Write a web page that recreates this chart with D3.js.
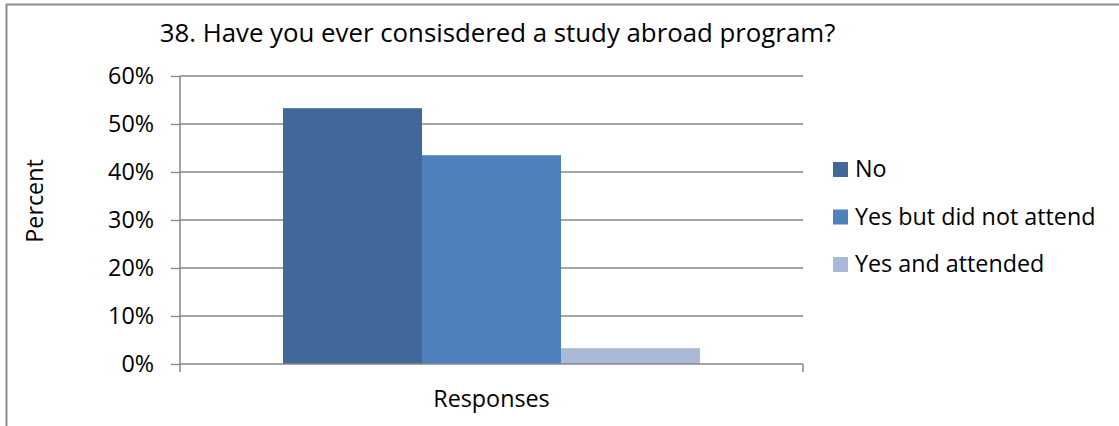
<!DOCTYPE html>
<html>
<head>
<meta charset="utf-8">
<script src="https://cdn.jsdelivr.net/npm/d3@7"></script>
<style>
  body { margin: 0; background: #fff; }
  text { font-family: "Open Sans", "Noto Sans", sans-serif; fill: #000; }
</style>
</head>
<body>
<div id="chart"></div>
<script>
const categories = ['Responses'];
const seriesNames = ['No', 'Yes but did not attend', 'Yes and attended'];
const seriesValues = [0.533, 0.435, 0.033];
const yTicks = [0, 0.1, 0.2, 0.3, 0.4, 0.5, 0.6];

const COLORS = {
  SERIES: ['#40699A', '#4F81BD', '#AAB9D7'],
  GRID: '#878787',
  BORDER: '#8C8C8C'
};

const width = 1119;
const height = 426;
const plot = { left: 180, right: 803, top: 76, bottom: 364 };
const FONT = 23.3;

const svg = d3.select('#chart').append('svg')
  .attr('width', width)
  .attr('height', height)
  .attr('viewBox', [0, 0, width, height]);

// outer chart border (cropped at right and bottom)
svg.append('rect')
  .attr('x', 6.5).attr('y', 4.5)
  .attr('width', width + 10).attr('height', height + 10)
  .attr('fill', 'none')
  .attr('stroke', COLORS.BORDER)
  .attr('stroke-width', 2);

const y = d3.scaleLinear().domain([0, 0.6]).range([plot.bottom, plot.top]);
const x0 = d3.scaleBand().domain(categories).range([plot.left, plot.right]);
const x1 = d3.scaleBand().domain(seriesNames)
  .range([0, x0.bandwidth()])
  .paddingInner(0)
  .paddingOuter(0.741);

// gridlines
svg.append('g')
  .selectAll('line')
  .data(yTicks.filter(d => d > 0))
  .join('line')
    .attr('x1', plot.left).attr('x2', plot.right)
    .attr('y1', d => y(d)).attr('y2', d => y(d))
    .attr('stroke', COLORS.GRID)
    .attr('stroke-width', 1.3);

// bars
svg.append('g')
  .selectAll('g')
  .data(categories)
  .join('g')
    .attr('transform', d => `translate(${x0(d)},0)`)
  .selectAll('rect')
  .data(() => seriesNames.map((name, i) => ({ name, value: seriesValues[i], color: COLORS.SERIES[i] })))
  .join('rect')
    .attr('x', d => x1(d.name))
    .attr('y', d => y(d.value))
    .attr('width', x1.bandwidth())
    .attr('height', d => y(0) - y(d.value))
    .attr('fill', d => d.color);

// y axis
const yAxis = d3.axisLeft(y)
  .tickValues(yTicks)
  .tickFormat(d3.format('.0%'))
  .tickSize(9)
  .tickPadding(17);

const yAxisG = svg.append('g')
  .attr('transform', `translate(${plot.left},0)`)
  .call(yAxis);
yAxisG.select('.domain').remove();
yAxisG.selectAll('line').attr('stroke', COLORS.GRID).attr('stroke-width', 1.3);
yAxisG.selectAll('text')
  .attr('font-size', FONT)
  .attr('font-family', '"Open Sans", sans-serif')
  .attr('fill', '#000');

// axis lines
svg.append('line')
  .attr('x1', plot.left).attr('x2', plot.left)
  .attr('y1', plot.top).attr('y2', plot.bottom + 8)
  .attr('stroke', COLORS.GRID).attr('stroke-width', 1.5);
svg.append('line')
  .attr('x1', plot.left).attr('x2', plot.right)
  .attr('y1', plot.bottom).attr('y2', plot.bottom)
  .attr('stroke', COLORS.GRID).attr('stroke-width', 1.5);
svg.append('line')
  .attr('x1', plot.right).attr('x2', plot.right)
  .attr('y1', plot.bottom).attr('y2', plot.bottom + 8)
  .attr('stroke', COLORS.GRID).attr('stroke-width', 1.5);

// title
svg.append('text')
  .attr('x', 497.5).attr('y', 42)
  .attr('text-anchor', 'middle')
  .attr('font-size', 25.8)
  .text('38. Have you ever consisdered a study abroad program?');

// axis titles
svg.append('text')
  .attr('x', (plot.left + plot.right) / 2).attr('y', 407)
  .attr('text-anchor', 'middle')
  .attr('font-size', FONT)
  .text(categories[0]);

svg.append('text')
  .attr('transform', 'translate(43,201) rotate(-90)')
  .attr('text-anchor', 'middle')
  .attr('font-size', FONT)
  .text('Percent');

// legend
const legend = svg.append('g')
  .selectAll('g')
  .data(seriesNames)
  .join('g')
    .attr('transform', (d, i) => `translate(833,${162 + i * 47.5})`);
legend.append('rect')
  .attr('width', 15).attr('height', 15)
  .attr('fill', (d, i) => COLORS.SERIES[i]);
legend.append('text')
  .attr('x', 22).attr('y', 15)
  .attr('font-size', FONT)
  .text(d => d);
</script>
</body>
</html>
